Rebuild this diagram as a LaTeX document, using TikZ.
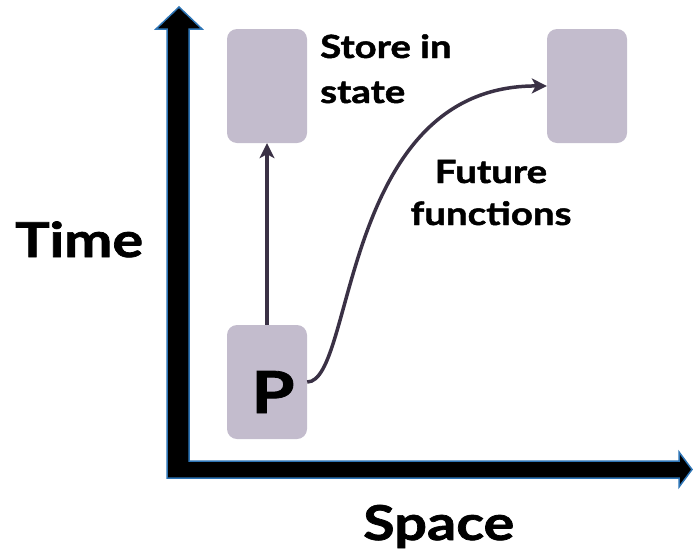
\documentclass[tikz,border=0pt]{standalone}
\usepackage{fontspec}
\setmainfont{Lato}[BoldFeatures={FakeStretch=1.2,FakeBold=1.5}]
\usetikzlibrary{arrows.meta}
\definecolor{boxfill}{HTML}{C3BCCD}
\definecolor{connclr}{HTML}{3A3145}
\definecolor{axisblue}{HTML}{2E75B6}
\begin{document}
\begin{tikzpicture}[x=1pt,y=-1pt,
  statebox/.style={fill=boxfill, rounded corners=10pt, minimum width=80pt, minimum height=114pt, inner sep=0pt, draw=none},
  connline/.style={draw=connclr, line width=3.5pt, -{Stealth[length=15pt,width=15pt,inset=4pt]}},
  lbl/.style={font=\bfseries\fontsize{32}{45}\selectfont, inner sep=0pt},
  biglbl/.style={font=\bfseries\fontsize{48}{56}\selectfont, inner sep=0pt},
  axisarrow/.style={fill=black, draw=axisblue, line width=1.5pt, line join=miter}]
\useasboundingbox (0,0) rectangle (693,555);
% axes
\draw[axisarrow] (167,478) -- (167,29) -- (156,29) -- (179,7) -- (202,29) -- (189,29)
  -- (189,461) -- (679,461) -- (679,452) -- (692,469.5) -- (679,487) -- (679,478) -- cycle;
% boxes
\node[statebox] (store) at (267,86) {};
\node[statebox] (future) at (587,86) {};
\node[statebox] (p) at (267,382) {};
\node[font=\bfseries\fontsize{58}{60}\selectfont, inner sep=0pt, anchor=base] (ptext) at (273,413) {P};
% labels
\node[lbl, align=left, anchor=base west] (storelbl) at (320,103) {Store in\\state};
\node[lbl, font=\bfseries\fontsize{32}{42}\selectfont, align=center, anchor=base] (futurelbl) at (491,225) {Future\\functions};
\node[biglbl, anchor=base west] (timelbl) at (15,257) {Time};
\node[biglbl, anchor=base west] (spacelbl) at (363,540) {Space};
% connectors
\draw[connline] (p.north) -- (store.south);
\draw[connline] (p.east) .. controls (355,382) and (340,85) .. (future.west);
\end{tikzpicture}
\end{document}
